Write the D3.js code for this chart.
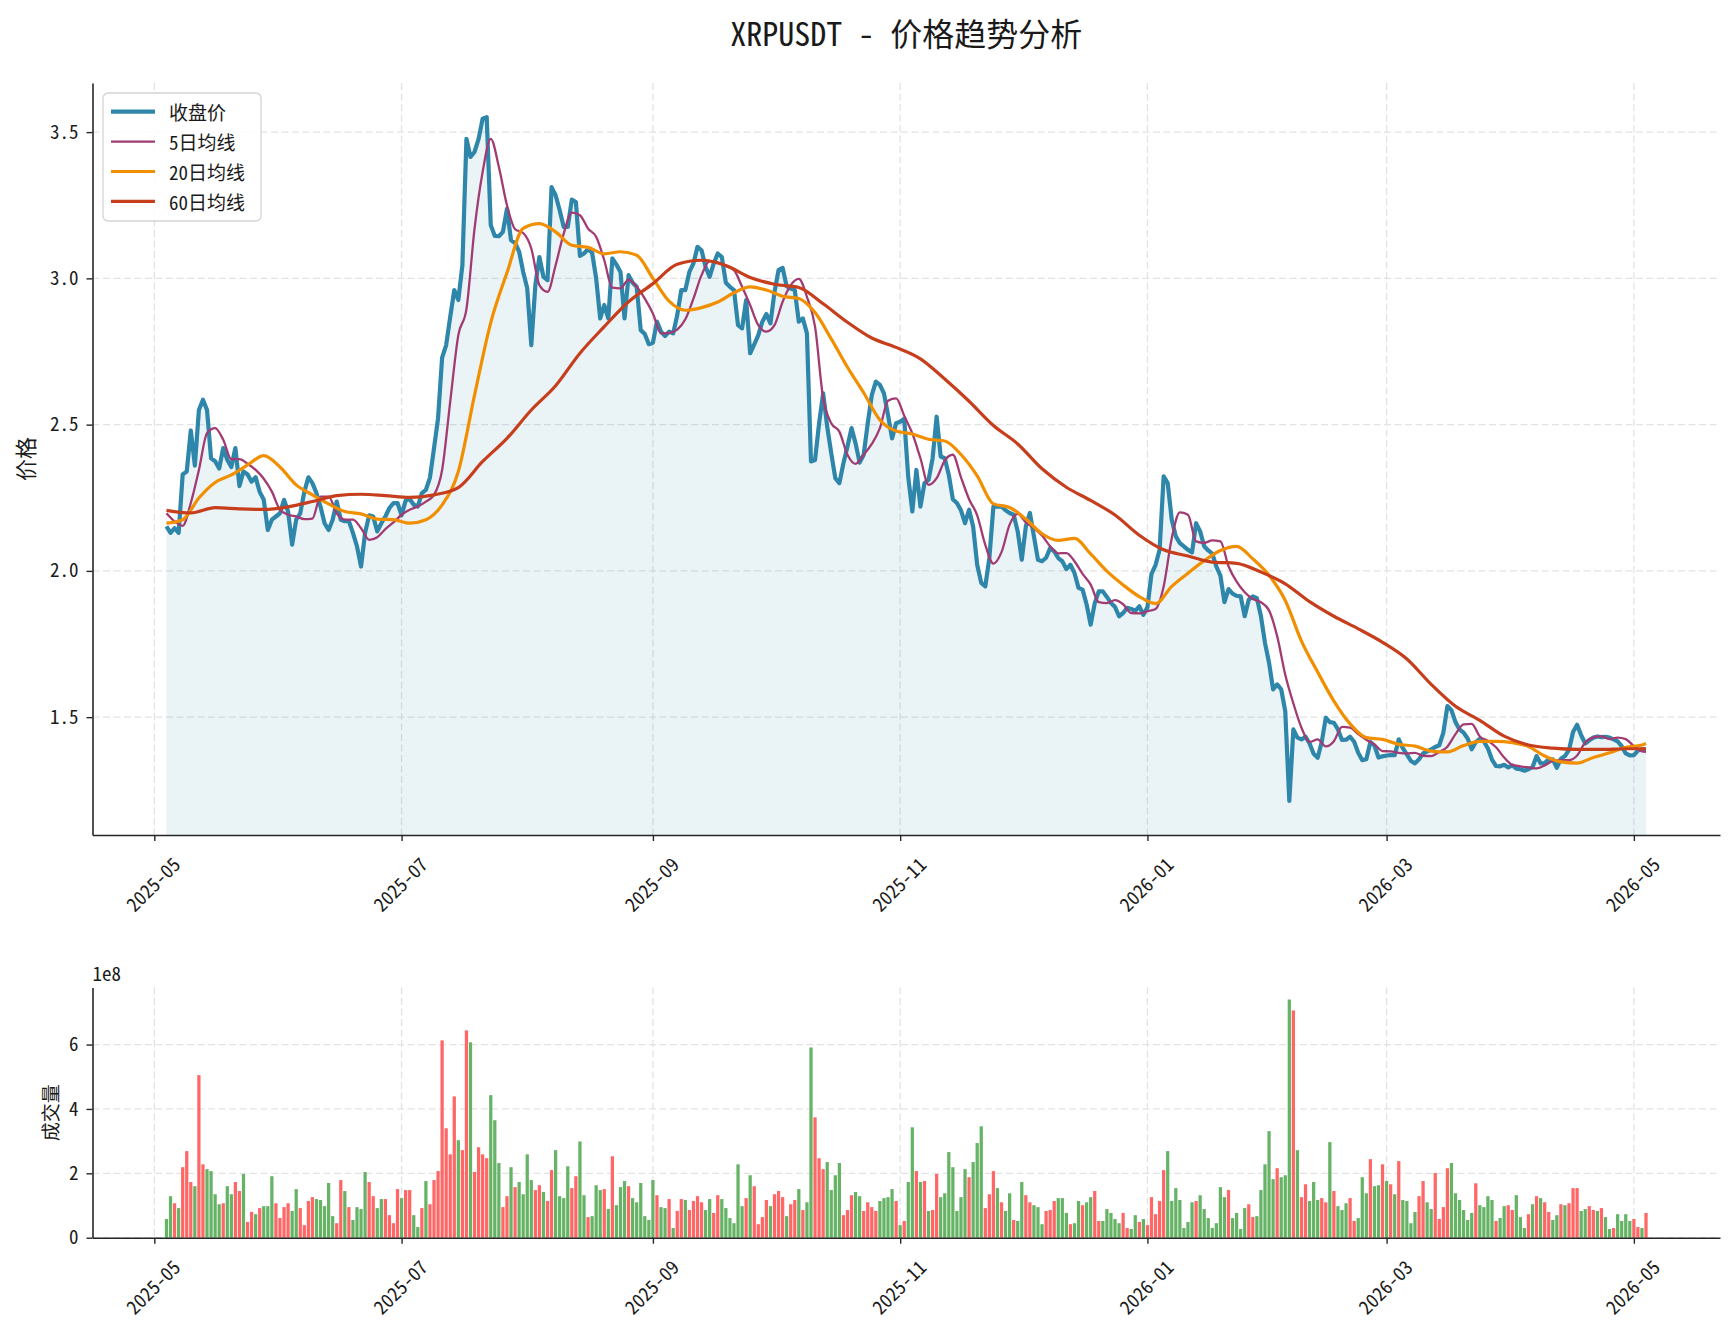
<!DOCTYPE html>
<html><head><meta charset="utf-8">
<script src="https://cdn.jsdelivr.net/npm/d3@7"></script>
<style>
body{margin:0;background:#fff;}
svg text{font-family:"Noto Sans Mono CJK SC","Noto Sans CJK SC","Noto Sans CJK JP",sans-serif;fill:#1a1a1a;}
</style></head><body>
<svg id="c" width="1734" height="1332"></svg>
<script>
// ---------------- DATA ----------------
const startDate = "2025-05-04";
const titleText = "XRPUSDT - 价格趋势分析";
const seriesNames = ["收盘价", "5日均线", "20日均线", "60日均线"];
const priceLabel = "价格";
const volumeLabel = "成交量";
const volumeOffsetText = "1e8";
const priceTicks = [1.5, 2.0, 2.5, 3.0, 3.5];
const volumeTicks = [0, 2, 4, 6];
const dateTicks = ["2025-05", "2025-07", "2025-09", "2025-11", "2026-01", "2026-03", "2026-05"];

// daily close
const close = [
2.152,2.130,2.146,2.130,2.330,2.340,2.480,2.360,2.550,2.585,
2.550,2.385,2.375,2.350,2.420,2.380,2.355,2.420,2.290,2.340,
2.330,2.305,2.320,2.270,2.243,2.140,2.175,2.186,2.197,2.243,
2.203,2.090,2.175,2.197,2.270,2.320,2.300,2.266,2.220,2.163,
2.140,2.175,2.237,2.175,2.170,2.170,2.130,2.084,2.015,2.130,
2.190,2.186,2.135,2.163,2.186,2.215,2.232,2.232,2.190,2.240,
2.246,2.226,2.220,2.266,2.277,2.319,2.419,2.522,2.729,2.772,
2.869,2.960,2.926,3.045,3.477,3.415,3.432,3.477,3.546,3.551,
3.182,3.145,3.144,3.159,3.238,3.130,3.121,3.091,3.022,2.966,
2.772,2.977,3.073,3.005,2.994,3.312,3.284,3.233,3.176,3.176,
3.269,3.261,3.077,3.085,3.100,3.088,3.000,2.863,2.909,2.863,
3.068,3.047,3.022,2.863,3.011,2.985,2.971,2.823,2.810,2.775,
2.780,2.852,2.818,2.803,2.818,2.812,2.874,2.960,2.960,3.022,
3.051,3.108,3.096,3.039,3.005,3.051,3.085,3.073,2.985,2.971,
2.960,2.840,2.829,2.926,2.744,2.774,2.806,2.852,2.878,2.846,
2.954,3.028,3.036,2.973,2.965,2.960,2.852,2.863,2.812,2.374,
2.379,2.505,2.607,2.493,2.402,2.317,2.300,2.368,2.425,2.488,
2.436,2.370,2.397,2.505,2.601,2.647,2.636,2.607,2.533,2.453,
2.505,2.510,2.520,2.320,2.203,2.345,2.220,2.300,2.311,2.385,
2.527,2.391,2.385,2.328,2.245,2.232,2.207,2.163,2.209,2.152,
2.021,1.959,1.947,2.044,2.220,2.220,2.220,2.207,2.198,2.192,
2.135,2.038,2.152,2.198,2.118,2.038,2.033,2.045,2.078,2.067,
2.044,2.033,2.006,2.021,1.993,1.942,1.936,1.885,1.816,1.890,
1.930,1.930,1.911,1.890,1.877,1.845,1.856,1.874,1.870,1.863,
1.879,1.850,1.876,1.990,2.020,2.072,2.323,2.300,2.175,2.118,
2.095,2.084,2.072,2.063,2.163,2.135,2.084,2.070,2.059,2.015,
1.984,1.893,1.938,1.922,1.915,1.913,1.845,1.902,1.913,1.907,
1.845,1.754,1.686,1.595,1.612,1.595,1.521,1.214,1.458,1.430,
1.424,1.433,1.410,1.375,1.361,1.415,1.498,1.483,1.481,1.458,
1.422,1.423,1.433,1.416,1.378,1.353,1.356,1.415,1.403,1.362,
1.366,1.369,1.370,1.370,1.424,1.394,1.373,1.350,1.342,1.356,
1.376,1.383,1.390,1.398,1.404,1.447,1.538,1.524,1.483,1.458,
1.447,1.427,1.390,1.415,1.426,1.417,1.393,1.355,1.333,1.332,
1.337,1.328,1.335,1.324,1.322,1.317,1.322,1.329,1.367,1.342,
1.343,1.356,1.356,1.327,1.358,1.367,1.388,1.449,1.474,1.438,
1.410,1.421,1.430,1.434,1.432,1.433,1.430,1.424,1.417,1.401,
1.376,1.369,1.370,1.386,1.390,1.390];

// daily volume, in units of 1e8
const volume = [
0.58,1.29,1.07,0.92,2.19,2.69,1.73,1.60,5.05,2.28,
2.13,2.07,1.35,1.04,1.07,1.60,1.35,1.73,1.45,1.98,
0.49,0.80,0.73,0.92,0.98,0.98,1.91,1.07,0.61,0.95,
1.07,0.83,1.51,0.92,0.39,1.14,1.26,1.20,1.17,0.98,
1.70,0.67,0.45,1.79,1.45,0.95,0.55,0.95,0.89,2.04,
1.73,1.29,0.92,1.20,1.20,0.70,0.45,1.51,1.23,1.48,
1.48,0.70,0.33,0.92,1.76,1.04,1.79,2.07,6.13,3.40,
2.59,4.39,3.03,2.72,6.44,6.07,2.04,2.81,2.59,2.47,
4.43,3.65,2.32,0.95,1.29,2.19,1.57,1.73,1.35,2.59,
1.79,1.48,1.63,1.42,1.14,2.10,2.72,1.29,1.23,2.22,
1.54,1.91,2.99,1.32,0.64,0.67,1.63,1.48,1.51,0.89,
2.53,1.01,1.57,1.76,1.60,1.23,1.10,1.70,0.67,0.55,
1.79,1.32,0.95,0.92,1.20,0.30,0.83,1.20,1.17,0.86,
1.14,1.29,1.10,0.86,1.20,0.77,1.32,1.20,0.92,0.61,
0.45,2.28,0.98,1.23,1.94,1.60,0.42,0.64,1.17,0.98,
1.35,1.45,1.26,0.67,1.04,1.17,1.51,0.86,1.10,5.91,
3.74,2.47,2.13,2.35,1.48,1.94,2.32,0.70,0.86,1.32,
1.42,1.29,0.83,1.10,0.95,0.83,1.14,1.23,1.26,1.51,
1.14,0.39,0.52,1.73,3.43,2.07,1.73,1.76,0.83,0.86,
1.98,1.26,1.38,2.66,2.19,0.83,1.26,2.13,1.88,2.35,
2.94,3.46,0.92,1.35,2.07,1.54,1.10,0.83,1.38,0.55,
0.52,1.73,1.32,1.10,1.01,0.95,0.42,0.83,0.86,1.14,
1.23,1.23,0.77,0.42,0.45,1.14,1.01,1.10,1.26,1.45,
0.52,0.52,0.89,0.77,0.58,0.45,0.77,0.30,0.27,0.70,
0.49,0.58,0.39,1.26,0.73,1.14,2.10,2.69,1.14,1.54,
1.17,0.30,0.49,1.10,1.14,1.32,0.89,0.61,0.30,0.45,
1.57,1.26,1.48,0.61,0.77,0.27,0.92,1.04,0.64,0.67,
1.48,2.28,3.31,1.82,2.16,1.88,1.94,7.40,7.06,2.72,
1.26,1.66,1.14,1.73,1.17,1.23,1.10,2.97,1.45,0.98,
0.86,1.07,1.23,0.52,0.61,1.88,1.38,2.44,1.60,1.63,
2.28,1.76,1.66,1.35,2.38,1.17,1.14,0.45,0.80,1.29,
1.76,1.10,0.89,2.01,0.58,0.95,2.16,2.32,1.38,1.17,
0.86,0.55,0.77,1.69,1.01,0.95,1.29,1.17,0.52,0.61,
0.98,1.01,0.86,1.32,0.64,0.30,0.73,1.04,1.29,1.23,
1.10,0.80,0.55,0.70,1.04,1.01,1.07,1.54,1.54,0.83,
0.89,0.98,0.86,0.83,0.92,0.64,0.27,0.30,0.73,0.52,
0.73,0.52,0.58,0.33,0.30,0.77];

// 1 = up day (red bar), 0 = down day (green bar)
const volumeUp = [
0,0,1,0,1,1,1,0,1,1, 0,0,0,0,1,0,0,1,1,0, 1,1,0,1,0,0,0,1,1,1, 1,0,0,1,1,1,1,0,0,0,
0,0,1,1,0,1,0,0,0,0, 1,1,0,0,1,1,1,1,0,1, 1,0,0,1,0,1,1,1,1,1, 1,1,0,1,1,0,1,1,1,1,
0,0,0,1,1,0,1,0,0,0, 0,1,1,0,1,1,0,0,0,0, 1,1,0,0,1,0,0,0,1,0, 1,0,0,0,1,0,0,0,0,0,
0,1,0,0,1,0,1,1,0,1, 1,1,1,0,0,1,1,0,0,0, 0,0,0,1,0,1,1,1,1,0, 1,1,1,0,1,1,0,1,0,0,
1,1,1,0,0,0,0,1,1,1, 0,0,1,1,1,1,0,0,0,0, 1,0,1,0,0,1,0,1,0,1, 1,0,0,0,0,0,0,0,1,0,
0,0,1,1,1,0,1,0,0,1, 0,0,1,1,0,0,0,1,1,1, 0,0,0,1,0,0,1,0,0,1, 1,0,0,0,0,0,1,1,0,0,
1,0,1,1,1,1,1,0,0,0, 0,0,0,0,1,0,0,0,0,0, 0,0,1,0,0,0,0,1,1,0, 0,0,0,0,1,0,0,0,1,0,
1,1,0,0,0,1,1,0,1,0, 0,0,1,1,0,0,0,1,0,0, 1,0,1,0,1,0,0,0,0,1, 1,0,0,1,1,1,1,0,0,0,
0,0,0,1,0,0,0,0,1,0, 0,1,1,0,0,0,1,0,1,0, 1,1,0,0,1,0,1,1,1,0, 0,1,1,0,1,0,0,1,0,0,
0,0,1,1,0,1];

// moving averages every few days
const ma5Step = 2;
const ma5 = [
2.197,2.169,2.154,2.232,2.345,2.471,2.488,2.448,2.382,2.382,
2.366,2.345,2.315,2.271,2.209,2.192,2.186,2.177,2.179,2.254,
2.254,2.197,2.175,2.175,2.146,2.106,2.115,2.143,2.166,2.192,
2.209,2.220,2.237,2.260,2.345,2.579,2.806,2.895,3.170,3.364,
3.477,3.381,3.250,3.168,3.155,3.102,2.977,2.954,3.045,3.153,
3.225,3.216,3.170,3.142,3.062,2.968,2.966,2.996,2.971,2.931,
2.880,2.812,2.814,2.825,2.860,2.931,3.011,3.059,3.055,3.042,
3.028,2.971,2.908,2.840,2.818,2.840,2.920,2.977,2.998,2.937,
2.835,2.590,2.505,2.476,2.397,2.366,2.397,2.434,2.488,2.582,
2.590,2.530,2.470,2.385,2.294,2.317,2.377,2.397,2.320,2.245,
2.190,2.089,2.025,2.064,2.158,2.195,2.166,2.146,2.121,2.084,
2.060,2.061,2.033,1.990,1.953,1.893,1.890,1.900,1.886,1.856,
1.855,1.862,1.870,1.947,2.112,2.200,2.192,2.101,2.096,2.104,
2.101,2.016,1.963,1.927,1.904,1.893,1.865,1.777,1.645,1.547,
1.464,1.415,1.424,1.400,1.418,1.467,1.464,1.442,1.423,1.407,
1.384,1.383,1.378,1.376,1.378,1.368,1.367,1.381,1.399,1.442,
1.475,1.477,1.434,1.419,1.397,1.362,1.337,1.332,1.328,1.325,
1.335,1.350,1.353,1.353,1.369,1.413,1.431,1.434,1.425,1.430,
1.425,1.401,1.383,1.381];

const ma20Step = 4;
const ma20 = [
2.163,2.175,2.249,2.302,2.328,2.362,2.394,2.355,2.294,2.260,
2.229,2.203,2.195,2.177,2.175,2.163,2.175,2.226,2.340,2.601,
2.849,3.019,3.171,3.187,3.159,3.113,3.106,3.084,3.091,3.079,
3.000,2.922,2.891,2.900,2.919,2.951,2.971,2.960,2.939,2.931,
2.883,2.793,2.696,2.609,2.516,2.478,2.468,2.450,2.444,2.398,
2.325,2.229,2.217,2.177,2.127,2.104,2.111,2.058,1.999,1.952,
1.912,1.888,1.947,1.992,2.035,2.070,2.084,2.041,1.985,1.899,
1.760,1.654,1.555,1.477,1.430,1.424,1.407,1.401,1.384,1.381,
1.403,1.417,1.417,1.413,1.400,1.367,1.347,1.343,1.362,1.378,
1.397,1.405,1.410];

const ma60Step = 6;
const ma60 = [
2.207,2.198,2.216,2.212,2.210,2.219,2.237,2.257,2.262,2.257,
2.251,2.260,2.285,2.374,2.453,2.550,2.633,2.744,2.835,2.920,
2.982,3.048,3.062,3.044,3.003,2.980,2.969,2.913,2.850,2.796,
2.764,2.725,2.656,2.580,2.497,2.434,2.349,2.286,2.241,2.191,
2.122,2.072,2.051,2.030,2.026,1.996,1.956,1.895,1.845,1.802,
1.756,1.699,1.612,1.537,1.489,1.435,1.405,1.394,1.390,1.390,
1.392,1.392];

const colors = { close:"#2E86AB", ma5:"#A23B72", ma20:"#F18F01", ma60:"#C73E1D",
                 fill:"#2E86AB", up:"#FF6666", down:"#66B366", grid:"#e3e3e3", axis:"#262626" };

// ---------------- LAYOUT ----------------
const M = {left:92.5, right:1720, top:83, bottom:835};
const V = {top:987.6, bottom:1237.7};
const svg = d3.select("#c");
svg.append("rect").attr("width",1734).attr("height",1332).attr("fill","#fff");

const N = close.length;
const t0 = d3.utcParse("%Y-%m-%d")(startDate);
const dates = d3.range(N).map(i => d3.utcDay.offset(t0, i));
const span = dates[N-1] - dates[0];
const x = d3.scaleUtc()
  .domain([new Date(+dates[0] - 0.05*span), new Date(+dates[N-1] + 0.05*span)])
  .range([M.left, M.right]);
const cMin = d3.min(close), cMax = d3.max(close), cR = cMax - cMin;
const y = d3.scaleLinear().domain([cMin - 0.05*cR, cMax + 0.05*cR]).range([M.bottom, M.top]);
const yv = d3.scaleLinear().domain([0, d3.max(volume)*1.05]).range([V.bottom, V.top]);
const tickDates = dateTicks.map(s => d3.utcParse("%Y-%m")(s));

function maPoints(arr, step){
  return arr.map((v,i) => ({d: dates[Math.min(i*step, N-1)], v}));
}

// ---------------- GRID ----------------
function grid(yScale, yTicks, top, bottom){
  const g = svg.append("g").attr("stroke", colors.grid).attr("stroke-width",1.3).attr("stroke-dasharray","7,3.5");
  g.selectAll("line.v").data(tickDates).join("line")
    .attr("x1", d=>x(d)).attr("x2", d=>x(d)).attr("y1", top).attr("y2", bottom);
  g.selectAll("line.h").data(yTicks).join("line")
    .attr("x1", M.left).attr("x2", M.right).attr("y1", d=>yScale(d)).attr("y2", d=>yScale(d));
}
grid(y, priceTicks, M.top, M.bottom);
grid(yv, volumeTicks, V.top, V.bottom);

// ---------------- PRICE PANEL ----------------
const priceData = close.map((v,i) => ({d: dates[i], v}));
svg.append("path").datum(priceData)
  .attr("fill", colors.fill).attr("fill-opacity", 0.1)
  .attr("d", d3.area().x(p=>x(p.d)).y0(M.bottom).y1(p=>y(p.v)));
const line = d3.line().x(p=>x(p.d)).y(p=>y(p.v));
const smooth = d3.line().x(p=>x(p.d)).y(p=>y(p.v)).curve(d3.curveMonotoneX);
svg.append("path").datum(priceData).attr("fill","none").attr("stroke",colors.close)
  .attr("stroke-width",4.2).attr("stroke-linejoin","round").attr("d", line);
svg.append("path").datum(maPoints(ma5, ma5Step)).attr("fill","none").attr("stroke",colors.ma5)
  .attr("stroke-width",2.3).attr("stroke-linejoin","round").attr("d", smooth);
svg.append("path").datum(maPoints(ma20, ma20Step)).attr("fill","none").attr("stroke",colors.ma20)
  .attr("stroke-width",3.2).attr("stroke-linejoin","round").attr("d", smooth);
svg.append("path").datum(maPoints(ma60, ma60Step)).attr("fill","none").attr("stroke",colors.ma60)
  .attr("stroke-width",3.2).attr("stroke-linejoin","round").attr("d", smooth);

// ---------------- VOLUME PANEL ----------------
const barW = (x(dates[1]) - x(dates[0])) * 0.8;
svg.append("g").selectAll("rect").data(volume).join("rect")
  .attr("x", (v,i) => x(dates[i]) - barW/2)
  .attr("width", barW)
  .attr("y", v => yv(v))
  .attr("height", v => yv(0) - yv(v))
  .attr("fill", (v,i) => volumeUp[i] ? colors.up : colors.down);

// ---------------- AXES ----------------
function styleAxis(g){
  g.attr("font-family", null).attr("font-size", null);
  g.select(".domain").attr("stroke", colors.axis).attr("stroke-width", 1.6);
  g.selectAll(".tick line").attr("stroke", colors.axis).attr("stroke-width", 1.4);
}
function xAxis(yPos){
  const g = svg.append("g").attr("transform", `translate(0,${yPos})`)
    .call(d3.axisBottom(x).tickValues(tickDates).tickSize(6).tickSizeOuter(0).tickFormat((d,i)=>dateTicks[i]));
  styleAxis(g);
  g.selectAll(".tick text")
    .attr("y", 0).attr("dy", null).attr("x", 0)
    .attr("text-anchor","end").attr("font-size", 19)
    .attr("transform","translate(27,31) rotate(-45)");
}
function yAxis(scale, ticks, fmt){
  const g = svg.append("g").attr("transform", `translate(${M.left},0)`)
    .call(d3.axisLeft(scale).tickValues(ticks).tickSize(6).tickSizeOuter(0).tickPadding(8).tickFormat(fmt));
  styleAxis(g);
  g.selectAll(".tick text").attr("font-size", 19);
}
xAxis(M.bottom);
xAxis(V.bottom);
yAxis(y, priceTicks, d3.format(".1f"));
yAxis(yv, volumeTicks, d3.format("d"));

// ---------------- TEXT ----------------
svg.append("text").attr("x", (M.left+M.right)/2).attr("y", 32)
  .attr("text-anchor","middle").attr("dominant-baseline","central")
  .attr("font-size", 32).attr("font-weight","normal").text(titleText);
svg.append("text").attr("transform", `translate(24,${(M.top+M.bottom)/2}) rotate(-90)`)
  .attr("text-anchor","middle").attr("dominant-baseline","central").attr("font-size",22).text(priceLabel);
svg.append("text").attr("transform", `translate(49,${(V.top+V.bottom)/2}) rotate(-90)`)
  .attr("text-anchor","middle").attr("dominant-baseline","central").attr("font-size",19).text(volumeLabel);
svg.append("text").attr("x", M.left).attr("y", 981).attr("font-size", 19).text(volumeOffsetText);

// ---------------- LEGEND ----------------
const lg = svg.append("g");
lg.append("rect").attr("x",103).attr("y",93).attr("width",158).attr("height",128).attr("rx",5)
  .attr("fill","#fff").attr("fill-opacity",0.85).attr("stroke","#d4d4d4").attr("stroke-width",1.3);
const legendItems = [
  {name: seriesNames[0], color: colors.close, w: 4.2},
  {name: seriesNames[1], color: colors.ma5, w: 2.3},
  {name: seriesNames[2], color: colors.ma20, w: 3.2},
  {name: seriesNames[3], color: colors.ma60, w: 3.2}];
legendItems.forEach((it,i) => {
  const yy = 111.7 + i*29.9;
  lg.append("line").attr("x1",111).attr("x2",155).attr("y1",yy).attr("y2",yy)
    .attr("stroke",it.color).attr("stroke-width",it.w);
  lg.append("text").attr("x",169).attr("y",yy).attr("dominant-baseline","central")
    .attr("font-size",19).text(it.name);
});
</script>
</body></html>
